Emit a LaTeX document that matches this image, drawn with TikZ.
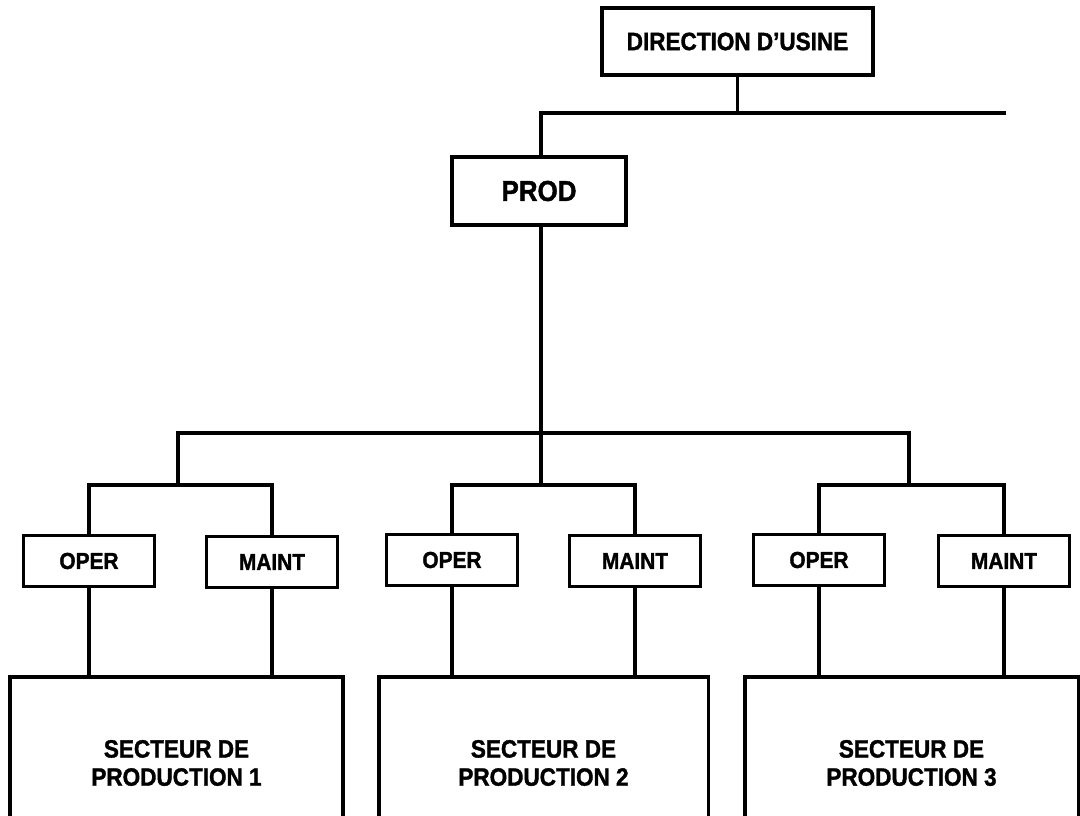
\documentclass[tikz,border=0pt]{standalone}
\usepackage{fontspec}
\setmainfont{Liberation Sans}[FakeStretch=0.9, BoldFeatures={FakeBold=1.4}]
\begin{document}
\begin{tikzpicture}[x=0.025cm, y=-0.025cm,
    line width=2.2pt,
    box/.style={draw, line width=2.2pt, inner sep=0pt, align=center, font=\bfseries},
    topbox/.style={box, minimum width=6.775cm, minimum height=1.675cm, font=\fontsize{17.8}{20}\selectfont\bfseries},
    prodbox/.style={box, minimum width=4.35cm, minimum height=1.7cm, font=\fontsize{20.5}{22}\selectfont\bfseries},
    unitbox/.style={box, minimum width=3.275cm, minimum height=1.275cm, font=\fontsize{16.5}{18}\selectfont\bfseries},
    sectbox/.style={box, minimum height=4.3cm, font=\fontsize{17.8}{20}\selectfont\bfseries}]
  \path[use as bounding box] (0,0) rectangle (1080,816);
  \clip (0,0) rectangle (1080,816);

  % management boxes
  \node[topbox]  (dir)  at (737.5,41.5) {DIRECTION D'USINE};
  \node[prodbox] (prod) at (539,191) {PROD};

  % operation / maintenance units
  \node[unitbox] (oper1)  at (89,561)  {OPER};
  \node[unitbox] (maint1) at (272,562) {MAINT};
  \node[unitbox] (oper2)  at (452,560) {OPER};
  \node[unitbox] (maint2) at (635,561) {MAINT};
  \node[unitbox] (oper3)  at (819,560) {OPER};
  \node[unitbox] (maint3) at (1004,561) {MAINT};

  % production sectors (open at the lower edge)
  \node[sectbox, minimum width=8.325cm] (sect1) at (176.5,763) {SECTEUR DE\\PRODUCTION 1};
  \node[sectbox, minimum width=8.225cm] (sect2) at (543.5,763) {SECTEUR DE\\PRODUCTION 2};
  \node[sectbox, minimum width=8.325cm] (sect3) at (911.5,763) {SECTEUR DE\\PRODUCTION 3};

  % bus coordinates
  \coordinate (b1L) at (541,113);
  \coordinate (b1R) at (1006,113);
  \coordinate (b2)  at (541,433);
  \coordinate (b2L) at (178,433);
  \coordinate (b2R) at (909,433);
  \coordinate (g1)  at (178,485);
  \coordinate (g2)  at (541,485);
  \coordinate (g3)  at (909,485);

  % top level
  \draw (dir.south) -- (dir.south |- b1L);
  \draw (b1R) -- (b1L) -- (b1L |- prod.north);
  \draw (b2 |- prod.south) -- (b2);

  % distribution to the three sectors
  \draw (g1) -- (b2L) -- (b2R) -- (g3);
  \draw (b2) -- (g2);

  % unit pairs
  \draw (oper1.north) |- (g1) -| (maint1.north);
  \draw (oper2.north) |- (g2) -| (maint2.north);
  \draw (oper3.north) |- (g3) -| (maint3.north);

  % units down to their sectors
  \draw (oper1.south)  -- (oper1.south  |- sect1.north);
  \draw (maint1.south) -- (maint1.south |- sect1.north);
  \draw (oper2.south)  -- (oper2.south  |- sect2.north);
  \draw (maint2.south) -- (maint2.south |- sect2.north);
  \draw (oper3.south)  -- (oper3.south  |- sect3.north);
  \draw (maint3.south) -- (maint3.south |- sect3.north);
\end{tikzpicture}
\end{document}
